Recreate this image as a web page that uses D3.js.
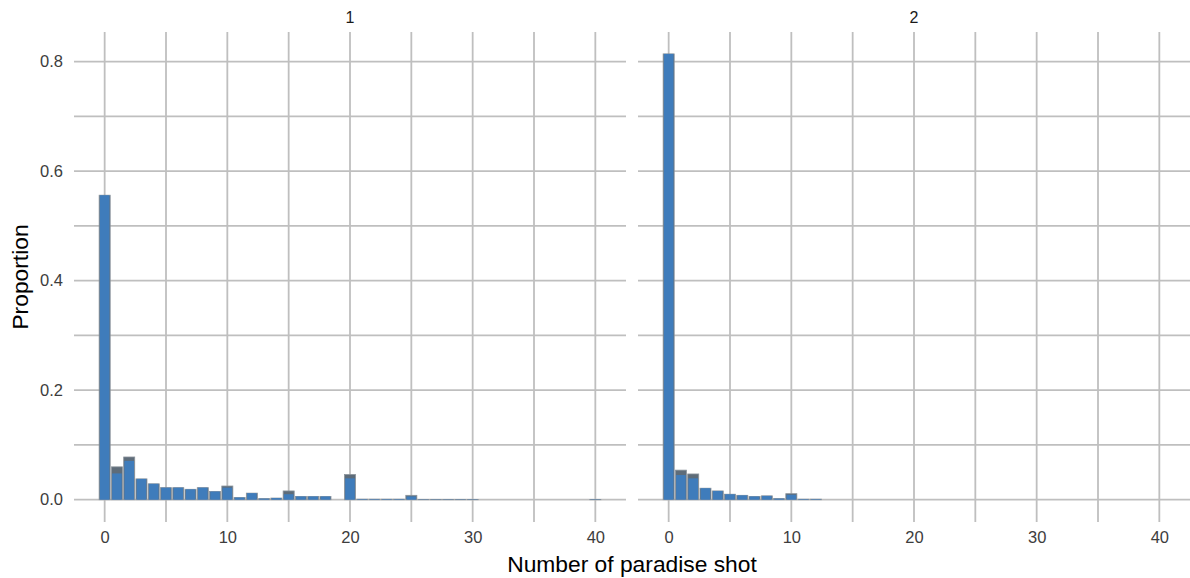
<!DOCTYPE html>
<html>
<head>
<meta charset="utf-8">
<script src="https://cdn.jsdelivr.net/npm/d3@7"></script>
<style>
  body { margin: 0; background: #fff; }
  svg text { font-family: "Liberation Sans", Arial, sans-serif; }
</style>
</head>
<body>
<svg id="chart" width="1190" height="578"></svg>
<script>
// Number of paradise shots, 0..40
const shots = d3.range(0, 41);
const panelNames = ["1", "2"];

// Proportion per shot count, panel 1 (overall height and the blue part)
const totalP1 = [0.556, 0.060, 0.078, 0.038, 0.029, 0.022, 0.022, 0.019, 0.022, 0.015,
                 0.025, 0.004, 0.012, 0.002, 0.003, 0.016, 0.006, 0.006, 0.006, 0,
                 0.046, 0.001, 0.001, 0.001, 0.001, 0.008, 0.0005, 0.0005, 0.0005, 0.0005,
                 0.0005, 0, 0, 0, 0, 0, 0, 0, 0, 0,
                 0.0005];
const blueP1  = [0.556, 0.048, 0.071, 0.038, 0.029, 0.022, 0.022, 0.019, 0.022, 0.015,
                 0.022, 0.004, 0.012, 0.002, 0.003, 0.010, 0.006, 0.006, 0.006, 0,
                 0.039, 0.001, 0.001, 0.001, 0.001, 0.006, 0.0005, 0.0005, 0.0005, 0.0005,
                 0.0005, 0, 0, 0, 0, 0, 0, 0, 0, 0,
                 0.0005];

// Panel 2
const totalP2 = [0.814, 0.054, 0.047, 0.021, 0.016, 0.010, 0.008, 0.006, 0.007, 0.002,
                 0.011, 0.001, 0.001, 0, 0, 0, 0, 0, 0, 0,
                 0, 0, 0, 0, 0, 0, 0, 0, 0, 0,
                 0, 0, 0, 0, 0, 0, 0, 0, 0, 0,
                 0];
const blueP2  = [0.814, 0.045, 0.039, 0.021, 0.016, 0.010, 0.008, 0.006, 0.007, 0.002,
                 0.009, 0.001, 0.001, 0, 0, 0, 0, 0, 0, 0,
                 0, 0, 0, 0, 0, 0, 0, 0, 0, 0,
                 0, 0, 0, 0, 0, 0, 0, 0, 0, 0,
                 0];

const xTicks = [0, 10, 20, 30, 40];
const xGrid = [0, 5, 10, 15, 20, 25, 30, 35, 40];
const yTicks = [0, 0.2, 0.4, 0.6, 0.8];
const yGrid = [0, 0.1, 0.2, 0.3, 0.4, 0.5, 0.6, 0.7, 0.8];

const svg = d3.select("#chart");

const panelW = 552;
const panelLefts = [74, 638];
const plotTop = 32, plotBottom = 522;
const barW = 0.9;

const y = d3.scaleLinear().domain([-0.0407, 0.854]).range([plotBottom, plotTop]);

const panelData = [
  { name: panelNames[0], total: totalP1, blue: blueP1 },
  { name: panelNames[1], total: totalP2, blue: blueP2 }
];

const gridColor = "#bfbfbf";
const tickFont = 16.5;

panelData.forEach((p, i) => {
  const left = panelLefts[i];
  const x = d3.scaleLinear().domain([-2.5, 42.5]).range([left, left + panelW]);
  const g = svg.append("g");

  // grid lines
  g.selectAll("line.hgrid").data(yGrid).join("line")
    .attr("class", "hgrid")
    .attr("x1", left).attr("x2", left + panelW)
    .attr("y1", d => y(d)).attr("y2", d => y(d))
    .attr("stroke", gridColor).attr("stroke-width", 1.8);
  g.selectAll("line.vgrid").data(xGrid).join("line")
    .attr("class", "vgrid")
    .attr("x1", d => x(d)).attr("x2", d => x(d))
    .attr("y1", plotTop).attr("y2", plotBottom)
    .attr("stroke", gridColor).attr("stroke-width", 1.8);

  const rows = shots.map((s, k) => ({ s, total: p.total[k], blue: p.blue[k] }));

  // full-height bars (grey)
  g.selectAll("rect.tot").data(rows.filter(d => d.total > 0)).join("rect")
    .attr("class", "tot")
    .attr("x", d => x(d.s - barW / 2))
    .attr("width", x(barW) - x(0))
    .attr("y", d => y(d.total))
    .attr("height", d => y(0) - y(d.total))
    .attr("fill", "#5e6c79")
    .attr("stroke", "#8a939b").attr("stroke-width", 0.8);

  // blue part
  g.selectAll("rect.blue").data(rows.filter(d => d.blue > 0)).join("rect")
    .attr("class", "blue")
    .attr("x", d => x(d.s - barW / 2) + 0.7)
    .attr("width", x(barW) - x(0) - 1.4)
    .attr("y", d => y(d.blue))
    .attr("height", d => y(0) - y(d.blue))
    .attr("fill", "#3d7ec1")
    .attr("fill-opacity", 0.92);

  // x axis labels
  const xAxis = d3.axisBottom(x).tickValues(xTicks).tickSize(0).tickPadding(9)
    .tickFormat(d3.format("d"));
  const ax = g.append("g").attr("transform", `translate(0,${plotBottom})`).call(xAxis);
  ax.select(".domain").remove();
  ax.selectAll("text").attr("font-size", tickFont).attr("fill", "#3d3d3d")
    .style("font-family", '"Liberation Sans", Arial, sans-serif');

  // strip label
  g.append("text")
    .attr("x", left + panelW / 2).attr("y", 23)
    .attr("text-anchor", "middle")
    .attr("font-size", 16).attr("fill", "#1a1a1a")
    .text(p.name);
});

// y axis labels
const yAxis = d3.axisLeft(y).tickValues(yTicks).tickSize(0).tickPadding(0)
  .tickFormat(d3.format(".1f"));
const ay = svg.append("g").attr("transform", "translate(63,0)").call(yAxis);
ay.select(".domain").remove();
ay.selectAll("text").attr("font-size", tickFont).attr("fill", "#3d3d3d")
  .style("font-family", '"Liberation Sans", Arial, sans-serif');

// axis titles
svg.append("text")
  .attr("x", 632).attr("y", 572)
  .attr("text-anchor", "middle")
  .attr("font-size", 22.8).attr("fill", "#000")
  .text("Number of paradise shot");

svg.append("text")
  .attr("transform", "translate(28,277) rotate(-90)")
  .attr("text-anchor", "middle")
  .attr("font-size", 22.8).attr("fill", "#000")
  .text("Proportion");
</script>
</body>
</html>
